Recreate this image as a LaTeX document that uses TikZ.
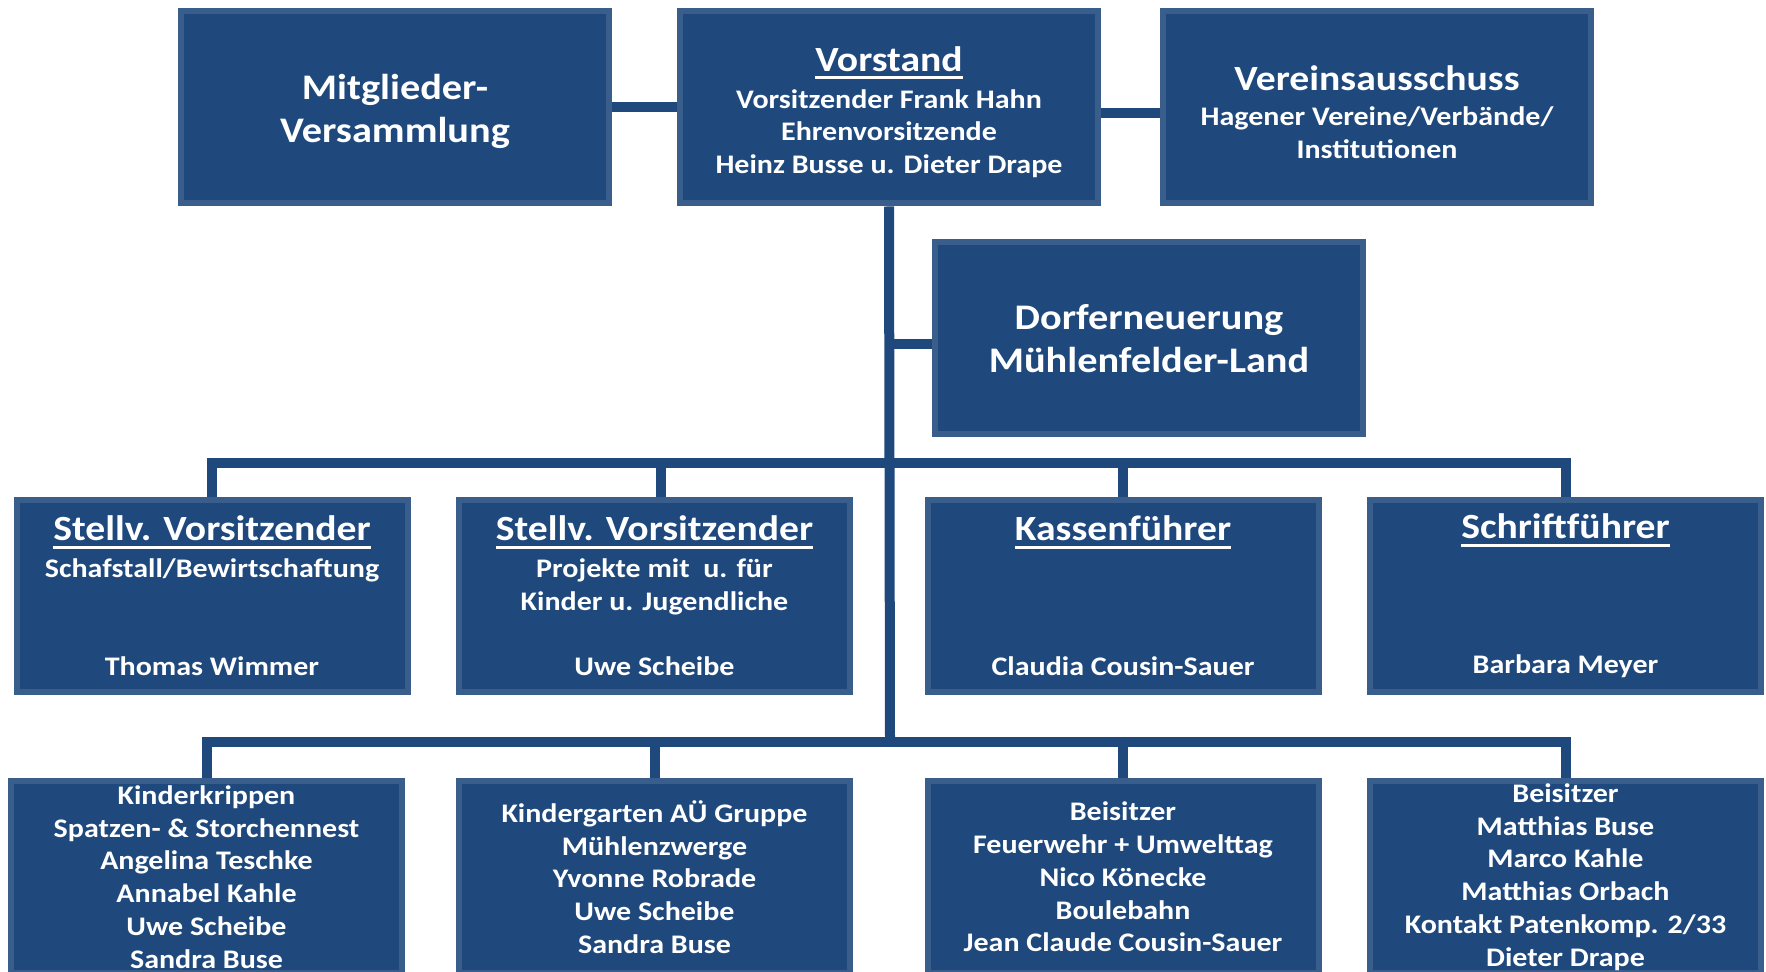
\documentclass[tikz,border=0pt]{standalone}
\usepackage{fontspec}
\setmainfont{Carlito}[FakeStretch=1.12]
\usepackage{tikz}
\definecolor{boxblue}{RGB}{31,73,125}
\definecolor{boxedge}{RGB}{58,94,140}
\newcommand{\bigtxt}{\fontsize{18}{21.5}\selectfont}
\newcommand{\ttltxt}{\fontsize{17.7}{20}\selectfont}
\newcommand{\subtxt}{\fontsize{13.4}{16.35}\selectfont}
\newcommand{\ulbox}[1]{\setbox0\hbox{#1}\leavevmode\rlap{\rule[-4pt]{\wd0}{1.4pt}}\box0}
\newcommand{\topstrut}{\rule{0pt}{17pt}}
\tikzset{
  box/.style={draw=boxedge, fill=boxblue, line width=3pt, text=white,
    font=\bfseries\subtxt, align=center, inner sep=0pt, minimum height=96pt},
  bigbox/.style={box, minimum width=214pt},
  smallbox/.style={box, minimum width=195.5pt},
  link/.style={draw=boxblue, line width=5pt}
}

\begin{document}
\begin{tikzpicture}[x=0.5pt,y=-0.5pt]
\useasboundingbox (0,0) rectangle (1766,972);
\clip (0,0) rectangle (1766,972);

% top row
\node[bigbox, font=\bfseries\bigtxt] (mv) at (395,107.5) {\topstrut Mitglieder-\\Versammlung};
\node[bigbox, minimum width=209pt] (vorstand) at (889,107.5)
  {{\ttltxt\topstrut\ulbox{Vorstand}}\\[2.2pt] Vorsitzender Frank Hahn\\Ehrenvorsitzende\\Heinz Busse u. Dieter Drape};
\node[bigbox] (verein) at (1377,107.5)
  {{\ttltxt\topstrut Vereinsausschuss}\\[1.5pt] Hagener Vereine/Verbände/\\Institutionen};
\node[bigbox, font=\bfseries\bigtxt] (dorf) at (1149,338.5) {Dorferneuerung\\Mühlenfelder-Land};

% second row
\node[smallbox] (st1) at (212,596)
  {{\ttltxt\ulbox{Stellv. Vorsitzender}}\\[2.2pt] Schafstall/Bewirtschaftung\\[32.7pt] Thomas Wimmer};
\node[smallbox] (st2) at (654.5,596)
  {{\ttltxt\ulbox{Stellv. Vorsitzender}}\\[2.2pt] Projekte mit \ u. für\\Kinder u. Jugendliche\\[16.35pt] Uwe Scheibe};
\node[smallbox] (kasse) at (1123,596)
  {{\ttltxt\ulbox{Kassenführer}}\\[51.25pt] Claudia Cousin-Sauer};
\node[smallbox] (schrift) at (1565.5,596)
  {{\ttltxt\ulbox{Schriftführer}}\\[51.25pt] Barbara Meyer};

% third row
\node[smallbox] (kita1) at (206.5,877)
  {Kinderkrippen\\Spatzen- \& Storchennest\\Angelina Teschke\\Annabel Kahle\\Uwe Scheibe\\Sandra Buse};
\node[smallbox] (kita2) at (654.5,877)
  {Kindergarten AÜ Gruppe\\Mühlenzwerge\\Yvonne Robrade\\Uwe Scheibe\\Sandra Buse};
\node[smallbox] (beis1) at (1123,877)
  {Beisitzer\\Feuerwehr + Umwelttag\\Nico Könecke\\Boulebahn\\Jean Claude Cousin-Sauer};
\node[smallbox] (beis2) at (1565.5,877)
  {Beisitzer\\Matthias Buse\\Marco Kahle\\Matthias Orbach\\Kontakt Patenkomp. 2/33\\Dieter Drape};

% connectors
\coordinate (j1) at (890,463);
\coordinate (j2) at (890,742);
\draw[link] (mv) -- (vorstand);
\draw[link] ([yshift=-2.75pt]vorstand.east) -- ([yshift=-2.75pt]verein.west);
\draw[link] (vorstand.south) -- (j2);
\draw[link] ([yshift=-2.75pt]dorf.west) -- ([yshift=-2.75pt]dorf.west -| j1);
\draw[link] (st1.north) |- (j1) -| (schrift.north);
\draw[link] ([xshift=3.25pt]st2.north) -- ([xshift=3.25pt]st2.north |- j1);
\draw[link] (kasse.north) -- (kasse.north |- j1);
\draw[link] (kita1.north) |- (j2) -| (beis2.north);
\draw[link] (kita2.north) -- (kita2.north |- j2);
\draw[link] (beis1.north) -- (beis1.north |- j2);
\end{tikzpicture}
\end{document}
